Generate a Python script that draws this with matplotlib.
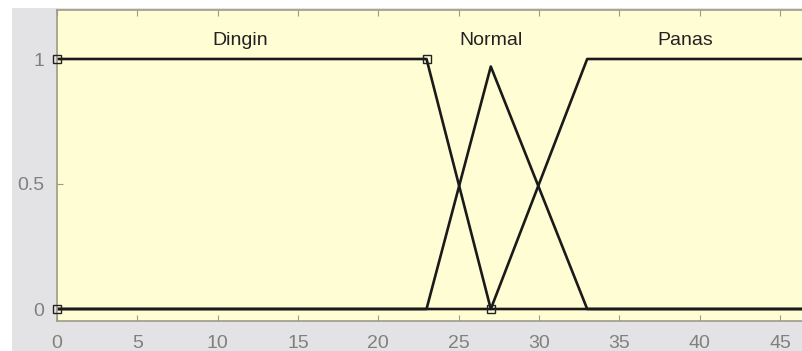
import matplotlib
matplotlib.use("Agg")
import matplotlib.pyplot as plt
from matplotlib.patches import Rectangle

# Membership function vertices
dingin_x = [0, 23, 27, 50]
dingin_y = [1, 1, 0, 0]
normal_x = [0, 23, 27, 33, 50]
normal_y = [0, 0, 0.97, 0, 0]
panas_x = [0, 27, 33, 50]
panas_y = [0, 0, 1, 1]
marker_x = [0, 0, 23, 27]
marker_y = [1, 0, 1, 0]

labels = ["Dingin", "Normal", "Panas"]
label_x = [11.4, 27.0, 39.1]
label_y = 1.075

xticks = [0, 5, 10, 15, 20, 25, 30, 35, 40, 45]
yticks = [0, 0.5, 1]
yticklabels = ["0", "0.5", "1"]

W, H = 802, 351
fig = plt.figure(figsize=(W / 100, H / 100), dpi=100)
fig.patch.set_facecolor("white")
fig.patches.append(Rectangle((12 / W, 0), 1, (H - 8) / H, transform=fig.transFigure,
                             facecolor="#E3E3E5", edgecolor="none", zorder=-10))

ax = fig.add_axes([57 / W, (H - 321) / H, (W - 57) / W, (321 - 10) / H])
ax.set_facecolor("#FFFDD4")
lc = "#1A1A1A"
ax.plot(dingin_x, dingin_y, color=lc, lw=1.9, solid_joinstyle="round")
ax.plot(normal_x, normal_y, color=lc, lw=1.9, solid_joinstyle="round")
ax.plot(panas_x, panas_y, color=lc, lw=1.9, solid_joinstyle="round")
ax.plot(marker_x, marker_y, linestyle="none", marker="s", markersize=6,
        markerfacecolor="none", markeredgecolor="#222222", markeredgewidth=1.0,
        clip_on=False, zorder=5)

for t, x in zip(labels, label_x):
    ax.text(x, label_y, t, ha="center", va="center", fontsize=14,
            color="#222222", family="Liberation Sans")

ax.set_xlim(0, 46.37)
ax.set_ylim(-0.048, 1.196)
ax.set_xticks(xticks)
ax.set_yticks(yticks)
ax.set_yticklabels(yticklabels)
sc = "#9E9A88"
for s in ["left", "top", "bottom"]:
    ax.spines[s].set_color(sc)
    ax.spines[s].set_linewidth(1.2)
ax.spines["right"].set_visible(False)
ax.tick_params(direction="in", length=4, color=sc, labelcolor="#808080",
               labelsize=14, top=True)
ax.tick_params(axis="x", pad=10)
ax.tick_params(axis="y", pad=9)
for lab in ax.get_xticklabels() + ax.get_yticklabels():
    lab.set_family("Liberation Sans")

fig.savefig("out.png", dpi=100, facecolor=fig.get_facecolor())
